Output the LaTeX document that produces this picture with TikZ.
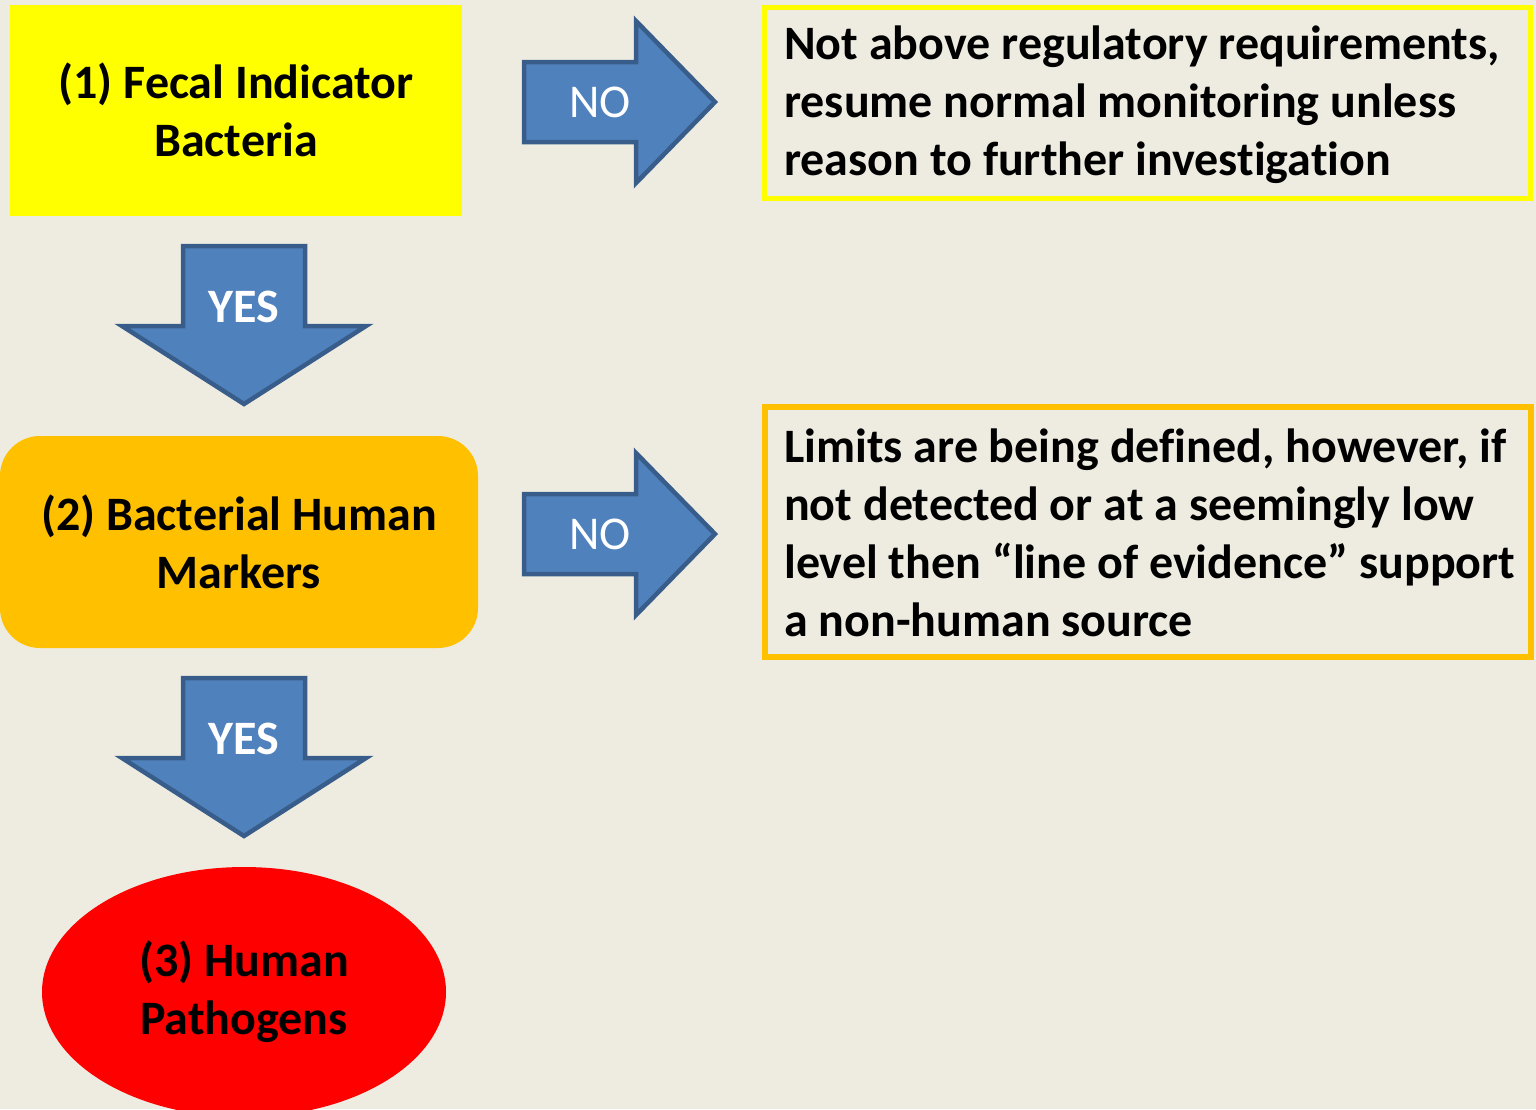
\documentclass[tikz,border=0pt]{standalone}
\usepackage{fontspec}
\setmainfont{Carlito}[Ligatures=NoCommon]
\usetikzlibrary{shapes.geometric}

\definecolor{bgtan}{HTML}{EEECE1}
\definecolor{arrowblue}{HTML}{4F81BD}
\definecolor{arrowedge}{HTML}{385D8A}
\definecolor{amber}{HTML}{FFC000}
\definecolor{lemon}{HTML}{FFFF00}
\definecolor{alarm}{HTML}{FF0000}

\begin{document}
\begin{tikzpicture}[x=1pt, y=-1pt,
	every node/.style={font=\fontsize{48}{58}\selectfont\bfseries},
	stage/.style={align=center, inner sep=0pt},
	frame/.style={minimum width=766, minimum height=191, inner sep=0pt},
	note/.style={align=left, anchor=west, inner sep=0pt},
	blockarrow/.style={fill=arrowblue, draw=arrowedge, line width=4.5pt, line join=miter},
	yeslabel/.style={text=white},
	nolabel/.style={text=white, font=\fontsize{47}{58}\selectfont}]
	% Background
	\fill[bgtan] (0,0) rectangle (1536,1109);
	\useasboundingbox (0,0) rectangle (1536,1109);
	
	% --- STAGES ---
	\node[stage, fill=lemon, minimum width=452, minimum height=211] (fib) at (236,110) {(1) Fecal Indicator\\Bacteria};
	\node[stage, fill=amber, minimum width=478, minimum height=212, rounded corners=40] (bhm) at (239,542) {(2) Bacterial Human\\Markers};
	\node[stage, ellipse, fill=alarm, minimum width=404, minimum height=250] (hp) at (244,992) {(3) Human\\Pathogens};
	
	% --- NOTES ---
	\node[frame, draw=lemon, line width=5pt] (nofib) at (1147,103) {};
	\node[note] (nofibtxt) at (784,105) {Not above regulatory requirements,\\resume normal monitoring unless\\reason to further investigation};
	
	\node[frame, draw=amber, line width=6pt, minimum height=250] (nobhm) at (1148,532) {};
	\node[note] (nobhmtxt) at (784,533) {Limits are being defined, however, if\\not detected or at a seemingly low\\level then “line of evidence” support\\a non-human source};
	
	% --- NO arrows ---
	\def\ya{102}
	\draw[blockarrow] (524,\ya-40) -- (636,\ya-40) -- (636,\ya-81) -- (715,\ya) -- (636,\ya+81) -- (636,\ya+40) -- (524,\ya+40) -- cycle;
	\node[nolabel] (no1) at (600,\ya) {NO};
	
	\def\ya{534}
	\draw[blockarrow] (524,\ya-40) -- (636,\ya-40) -- (636,\ya-81) -- (715,\ya) -- (636,\ya+81) -- (636,\ya+40) -- (524,\ya+40) -- cycle;
	\node[nolabel] (no2) at (600,\ya) {NO};
	
	% --- YES arrows ---
	\def\yb{246}
	\draw[blockarrow] (183,\yb) -- (305,\yb) -- (305,\yb+80) -- (366,\yb+80) -- (244,\yb+158) -- (122,\yb+80) -- (183,\yb+80) -- cycle;
	\node[yeslabel] (yes1) at (244,\yb+61) {YES};
	
	\def\yb{678}
	\draw[blockarrow] (183,\yb) -- (305,\yb) -- (305,\yb+80) -- (366,\yb+80) -- (244,\yb+158) -- (122,\yb+80) -- (183,\yb+80) -- cycle;
	\node[yeslabel] (yes2) at (244,\yb+61) {YES};
\end{tikzpicture}
\end{document}
